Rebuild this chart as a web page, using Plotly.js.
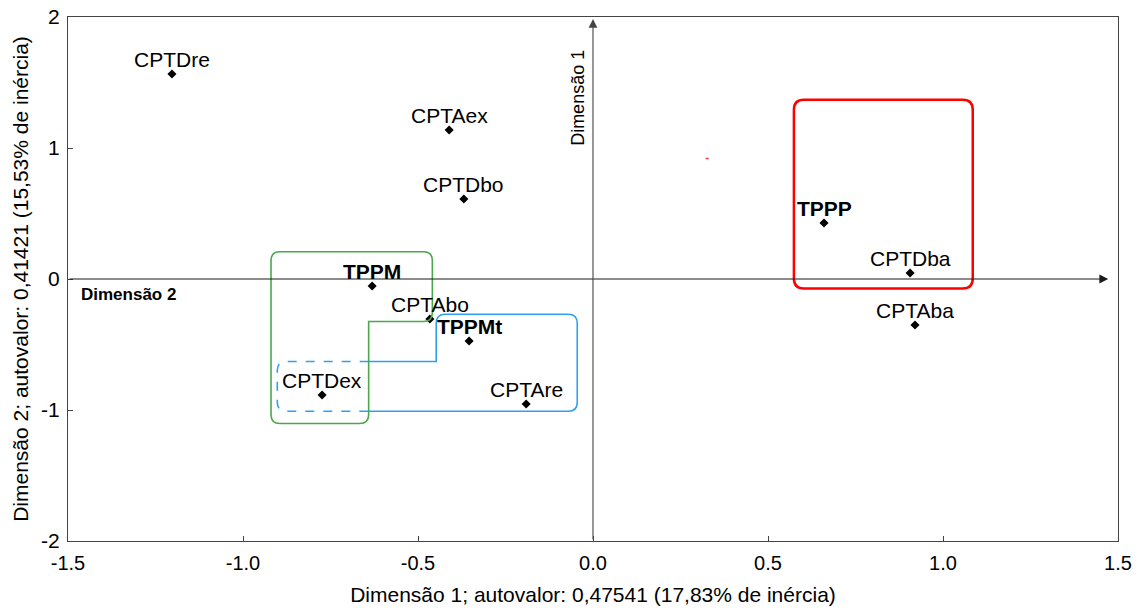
<!DOCTYPE html>
<html>
<head>
<meta charset="utf-8">
<script src="https://cdn.plot.ly/plotly-3.0.1.min.js"></script>
<style>
  html, body { margin: 0; padding: 0; background: #fff; }
  #chart { width: 1142px; height: 610px; }
</style>
</head>
<body>
<div id="chart"></div>
<script>
// Correspondence analysis: category coordinates on dimensions 1 and 2
const labels = ["CPTDre", "CPTAex", "CPTDbo", "TPPM", "CPTAbo", "TPPMt",
                "CPTDex", "CPTAre", "TPPP", "CPTDba", "CPTAba"];
const dim1 = [-1.203, -0.411, -0.369, -0.631, -0.466, -0.354,
              -0.774, -0.191, 0.660, 0.906, 0.920];
const dim2 = [1.565, 1.137, 0.611, -0.053, -0.305, -0.473,
              -0.885, -0.954, 0.427, 0.046, -0.351];
// Supplementary (profile) categories are shown in bold
const boldLabels = ["TPPM", "TPPMt", "TPPP"];

const xTickVals = [-1.5, -1.0, -0.5, 0.0, 0.5, 1.0, 1.5];
const xTickText = ["-1.5", "-1.0", "-0.5", "0.0", "0.5", "1.0", "1.5"];
const yTickVals = [-2, -1, 0, 1, 2];
const yTickText = ["-2", "-1", "0", "1", "2"];

// Group outlines (vertices in axis units, corner radius in pixels)
const groupTPPP = [[0.574, 1.369], [1.085, 1.369], [1.085, -0.073], [0.574, -0.073]];
const groupTPPM = [[-0.920, 0.208], [-0.459, 0.208], [-0.459, -0.324],
                   [-0.641, -0.324], [-0.641, -1.103], [-0.920, -1.103]];
const groupTPPMtSolid = [[-0.641, -0.630], [-0.448, -0.630], [-0.448, -0.269],
                         [-0.045, -0.269], [-0.045, -1.009], [-0.641, -1.009]];
const groupTPPMtDashed = [[-0.641, -0.630], [-0.902, -0.630], [-0.902, -1.009], [-0.641, -1.009]];

const W = 1142, H = 610;
const M = { l: 68, r: 24, t: 17, b: 69 };
const xRange = [-1.5, 1.5], yRange = [-2, 2];
const pxX = (W - M.l - M.r) / (xRange[1] - xRange[0]);
const pxY = (H - M.t - M.b) / (yRange[1] - yRange[0]);

// Build an SVG path through the vertices, rounding the corners listed in `rounded`
function roundedPath(pts, radiusPx, closed, rounded) {
  const n = pts.length;
  let d = "";
  for (let i = 0; i < n; i++) {
    const p = pts[i];
    const isEnd = !closed && (i === 0 || i === n - 1);
    const doRound = !isEnd && (!rounded || rounded.includes(i));
    if (!doRound) {
      d += (i === 0 ? "M " : " L ") + p[0] + "," + p[1];
      continue;
    }
    const prev = pts[(i - 1 + n) % n], next = pts[(i + 1) % n];
    const dxIn = (prev[0] - p[0]) * pxX, dyIn = (prev[1] - p[1]) * pxY;
    const dxOut = (next[0] - p[0]) * pxX, dyOut = (next[1] - p[1]) * pxY;
    const lIn = Math.hypot(dxIn, dyIn), lOut = Math.hypot(dxOut, dyOut);
    const a = [p[0] + dxIn / lIn * radiusPx / pxX, p[1] + dyIn / lIn * radiusPx / pxY];
    const b = [p[0] + dxOut / lOut * radiusPx / pxX, p[1] + dyOut / lOut * radiusPx / pxY];
    d += (i === 0 ? "M " : " L ") + a[0] + "," + a[1] +
         " Q " + p[0] + "," + p[1] + " " + b[0] + "," + b[1];
  }
  if (closed) d += " Z";
  return d;
}

const font = "Liberation Sans, Arial, sans-serif";
const ink = "#1a1a1a";

const pointTrace = {
  type: "scatter",
  mode: "markers",
  x: dim1,
  y: dim2,
  text: labels,
  marker: { symbol: "diamond", size: 7, color: "#000" },
  hoverinfo: "x+y+text",
  showlegend: false
};

// Category names sit just above their points
const labelAnnotations = labels.map((l, i) => ({
  x: dim1[i], y: dim2[i], xref: "x", yref: "y",
  xanchor: "center", yanchor: "bottom", yshift: 1,
  text: boldLabels.includes(l) ? "<b>" + l + "</b>" : l,
  showarrow: false,
  font: { family: font, size: 21, color: "#000" }
}));

const shapes = [
  { type: "path", xref: "x", yref: "y", path: roundedPath(groupTPPP, 10, true),
    line: { color: "#ff0000", width: 2.5 } },
  { type: "path", xref: "x", yref: "y", path: roundedPath(groupTPPM, 9, true, [0, 1, 2, 4, 5]),
    line: { color: "#4aa84a", width: 1.6 } },
  { type: "path", xref: "x", yref: "y", path: roundedPath(groupTPPMtSolid, 9, false, [2, 3, 4]),
    line: { color: "#2f9ff2", width: 1.6 } },
  { type: "path", xref: "x", yref: "y", path: roundedPath(groupTPPMtDashed, 9, false, [1, 2]),
    line: { color: "#2f9ff2", width: 1.6, dash: "dash" } },
  // small stray red stroke
  { type: "line", xref: "x", yref: "y", x0: 0.322, y0: 0.92, x1: 0.330, y1: 0.92,
    line: { color: "#ff3030", width: 1.5 } }
];

const annotations = [
  // Dimension 1 axis through the origin (horizontal, with arrow)
  { x: 1.472, y: 0, ax: -1.5, ay: 0, xref: "x", yref: "y", axref: "x", ayref: "y",
    text: "", showarrow: true, arrowhead: 2, arrowsize: 1.6, arrowwidth: 1.1,
    arrowcolor: ink, standoff: 0, startstandoff: 0 },
  // Dimension 2 axis through the origin (vertical, with arrow)
  { x: 0, y: 1.985, ax: 0, ay: -2, xref: "x", yref: "y", axref: "x", ayref: "y",
    text: "", showarrow: true, arrowhead: 2, arrowsize: 1.6, arrowwidth: 1.1,
    arrowcolor: "#444", standoff: 0, startstandoff: 0 },
  { x: -1.469, y: -0.118, xref: "x", yref: "y", xanchor: "left", yanchor: "middle",
    text: "<b>Dimensão 2</b>", showarrow: false,
    font: { family: font, size: 17, color: "#000" } },
  { x: -0.041, y: 1.38, xref: "x", yref: "y", xanchor: "center", yanchor: "middle",
    text: "Dimensão 1", textangle: -90, showarrow: false,
    font: { family: font, size: 18, color: "#000" } }
].concat(labelAnnotations);

const axisCommon = {
  showgrid: false, zeroline: false, showline: true, mirror: true,
  linecolor: "#444", linewidth: 1, ticks: "inside", ticklen: 5,
  tickcolor: "#444", fixedrange: true
};

const layout = {
  width: W, height: H,
  margin: M,
  paper_bgcolor: "#fff", plot_bgcolor: "#fff",
  font: { family: font, color: "#000" },
  showlegend: false,
  xaxis: Object.assign({}, axisCommon, {
    range: xRange, tickmode: "array", tickvals: xTickVals, ticktext: xTickText,
    tickfont: { family: font, size: 20, color: "#000" }, ticklabelstandoff: 4,
    title: { text: "Dimensão 1; autovalor: 0,47541 (17,83% de inércia)",
             font: { family: font, size: 21, color: "#000" }, standoff: 14 }
  }),
  yaxis: Object.assign({}, axisCommon, {
    range: yRange, tickmode: "array", tickvals: yTickVals, ticktext: yTickText,
    tickfont: { family: font, size: 21, color: "#000" }, ticklabelstandoff: 3,
    title: { text: "Dimensão 2; autovalor: 0,41421 (15,53% de inércia)",
             font: { family: font, size: 21, color: "#000" }, standoff: 6 }
  }),
  shapes: shapes,
  annotations: annotations
};

Plotly.newPlot("chart", [pointTrace], layout, { displayModeBar: false, staticPlot: true });
</script>
</body>
</html>
